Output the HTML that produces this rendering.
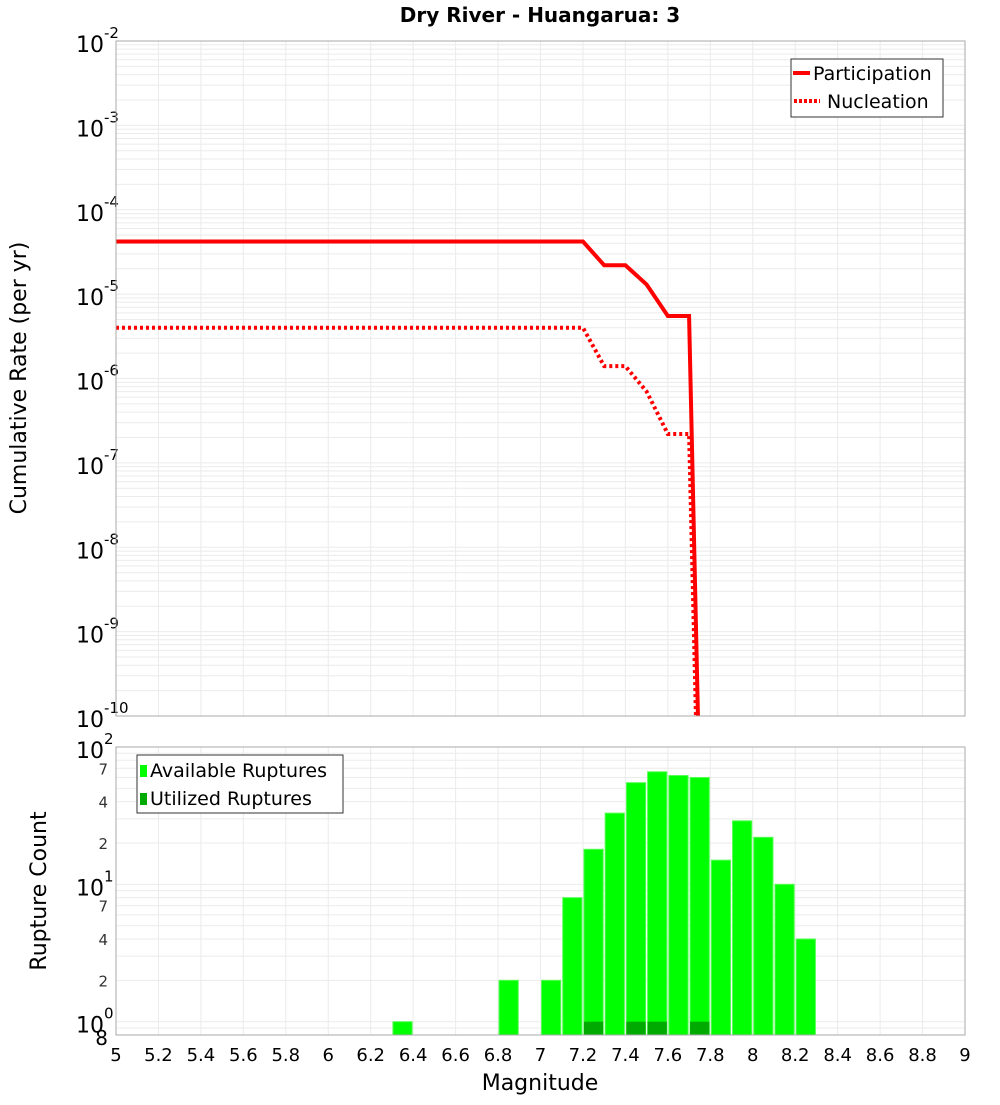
<!DOCTYPE html>
<html><head><meta charset="utf-8"><style>
html,body{margin:0;padding:0;background:#fff;}
svg text{font-family:"DejaVu Sans","Liberation Sans",sans-serif;}
</style></head><body>
<svg id="chart" width="1000" height="1100" xmlns="http://www.w3.org/2000/svg">
<rect width="1000" height="1100" fill="#fff"/>
<text x="540" y="22" text-anchor="middle" font-size="20" font-weight="bold">Dry River - Huangarua: 3</text>
<g id="topg"></g>
<g id="botg"></g>
<text transform="translate(26,378) rotate(-90)" text-anchor="middle" font-size="22">Cumulative Rate (per yr)</text>
<text transform="translate(46,891) rotate(-90)" text-anchor="middle" font-size="22">Rupture Count</text>
<text x="540" y="1090" text-anchor="middle" font-size="22">Magnitude</text>
</svg>
<script>
const partMag=[5,7.2,7.3,7.4,7.5,7.6,7.7,7.8];
const partRate=[4.2e-5,4.2e-5,2.2e-5,2.2e-5,1.3e-5,5.5e-6,5.5e-6,2.5e-17];
const nuclMag=[5,7.2,7.3,7.4,7.5,7.6,7.7,7.8];
const nuclRate=[4e-6,4e-6,1.4e-6,1.4e-6,7e-7,2.2e-7,2.2e-7,1e-17];
const binMag=[6.35,6.85,7.05,7.15,7.25,7.35,7.45,7.55,7.65,7.75,7.85,7.95,8.05,8.15,8.25];
const availCount=[1,2,2,8,18,33,55,66,62,60,15,29,22,10,4];
const utilMag=[7.25,7.45,7.55,7.75];
const utilCount=[1,1,1,1];
const xTicks=[5,5.2,5.4,5.6,5.8,6,6.2,6.4,6.6,6.8,7,7.2,7.4,7.6,7.8,8,8.2,8.4,8.6,8.8,9];
const topDecades=[-10,-9,-8,-7,-6,-5,-4,-3,-2];

const NS="http://www.w3.org/2000/svg";
const L=116,R=965,T1=41,B1=716,T2=747,B2=1035;
const x=m=>L+(m-5)/(9-5)*(R-L);
const yTop=v=>T1+(-2-Math.log10(v))/8*(B1-T1);
const bMin=Math.log10(0.8),bMax=2;
const yBot=v=>T2+(bMax-Math.log10(v))/(bMax-bMin)*(B2-T2);
function mk(p,t,a){const e=document.createElementNS(NS,t);for(const k in a)e.setAttribute(k,a[k]);p.appendChild(e);return e;}
const gTop=document.getElementById('topg'),gBot=document.getElementById('botg');
function grid(g,T,B,yf,minV,maxV){
  for(let d=Math.floor(Math.log10(minV));d<Math.ceil(Math.log10(maxV));d++){
    for(let k=1;k<10;k++){const v=k*Math.pow(10,d);if(v<minV*0.999||v>maxV*1.001)continue;
      const yy=yf(v);const l=mk(g,'line',{x1:L,x2:R,y1:yy,y2:yy,stroke:'#ebebeb','stroke-width':1});
      
      }
  }
  xTicks.forEach(t=>{const l=mk(g,'line',{x1:x(t),x2:x(t),y1:T,y2:B,stroke:'#ebebeb','stroke-width':1});
    
    });
}
grid(gTop,T1,B1,yTop,1e-10,1e-2);
grid(gBot,T2,B2,yBot,0.8,100);
topDecades.forEach(d=>{const yy=yTop(Math.pow(10,d));
  const t=mk(gTop,'text',{x:104,y:yy+11,'text-anchor':'end','font-size':22});t.textContent='10';
  
  
  const s=mk(gTop,'text',{x:104,y:yy-3,'font-size':15});s.textContent=String(d);
  
  });
function pts(ms,vs){return ms.map((m,i)=>x(m)+','+yTop(vs[i])).join(' ');}
const cpe=mk(gTop,'clipPath',{id:'cp'});
mk(cpe,'rect',{x:L,y:T1,width:R-L,height:B1-T1});
const pl=mk(gTop,'polyline',{points:pts(partMag,partRate),fill:'none',stroke:'#ff0000','stroke-width':4,'clip-path':'url(#cp)'});


const nl=mk(gTop,'polyline',{points:pts(nuclMag,nuclRate),fill:'none',stroke:'#ff0000','stroke-width':4,'stroke-dasharray':'3,3','clip-path':'url(#cp)'});


const f1=mk(gTop,'rect',{x:L,y:T1,width:R-L,height:B1-T1,fill:'none',stroke:'#aaa'});


const lg=mk(gTop,'g',{});


mk(lg,'rect',{x:791,y:59,width:152,height:58,fill:'#fff',stroke:'#333'});
mk(lg,'line',{x1:793,x2:810,y1:73,y2:73,stroke:'#f00','stroke-width':4});
mk(lg,'text',{x:813,y:80,'font-size':19}).textContent='Participation';
mk(lg,'line',{x1:794,x2:820,y1:101,y2:101,stroke:'#f00','stroke-width':4,'stroke-dasharray':'3,2'});
mk(lg,'text',{x:827,y:108,'font-size':19}).textContent='Nucleation';
binMag.forEach((m,i)=>{const y0=yBot(availCount[i]);
  const r=mk(gBot,'rect',{x:x(m-0.05)+1,y:y0,width:x(m+0.05)-x(m-0.05)-2,height:B2-y0,fill:'#00ff00',stroke:'#55ff55','stroke-width':1});
  
  });
utilMag.forEach((m,i)=>{const y0=yBot(utilCount[i]);
  const r=mk(gBot,'rect',{x:x(m-0.05)+1,y:y0,width:x(m+0.05)-x(m-0.05)-2,height:B2-y0,fill:'#00aa00'});
  
  });
const f2=mk(gBot,'rect',{x:L,y:T2,width:R-L,height:B2-T2,fill:'none',stroke:'#aaa'});


[[100,'10','2'],[10,'10','1'],[1,'10','0']].forEach(([v,b,e])=>{const yy=yBot(v);
  const t=mk(gBot,'text',{x:104,y:yy+11,'text-anchor':'end','font-size':22});t.textContent=b;
  
  
  const s=mk(gBot,'text',{x:104,y:yy-3,'font-size':15});s.textContent=e;
  
  });
[70,40,20,7,4,2].forEach(v=>{const t=mk(gBot,'text',{x:108,y:yBot(v)+6,'text-anchor':'end','font-size':15,fill:'#333'});
  t.textContent=String(v).charAt(0);
  
  });
const t8=mk(gBot,'text',{x:108,y:B2+10,'text-anchor':'end','font-size':20});t8.textContent='8';


xTicks.forEach(t=>{const e=mk(gBot,'text',{x:x(t),y:1061,'text-anchor':'middle','font-size':18});
  e.textContent=String(t);
  
  });
const bl=mk(gBot,'g',{});


mk(bl,'rect',{x:137,y:755,width:206,height:58,fill:'#fff',stroke:'#333'});
mk(bl,'rect',{x:140,y:765,width:7,height:12,fill:'#00ff00'});
mk(bl,'text',{x:150,y:777,'font-size':19}).textContent='Available Ruptures';
mk(bl,'rect',{x:140,y:793,width:7,height:12,fill:'#00aa00'});
mk(bl,'text',{x:150,y:805,'font-size':19}).textContent='Utilized Ruptures';
</script>
</body></html>
